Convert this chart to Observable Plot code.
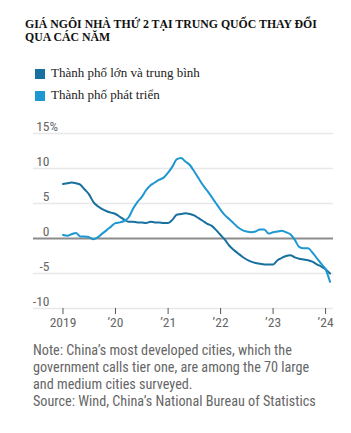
<!DOCTYPE html>
<html><head><meta charset="utf-8">
<script src="https://cdn.jsdelivr.net/npm/d3@7"></script>
<script src="https://cdn.jsdelivr.net/npm/@observablehq/plot@0.6"></script>
<style>
body{margin:0;background:#fff;width:351px;height:433px;position:relative;overflow:hidden}
.title{position:absolute;left:25px;top:18px;width:326px;font:bold 11.8px/13px "Liberation Serif",serif;color:#111;white-space:nowrap}
.sw{position:absolute;left:35px;width:10px;height:10px}
.lt{position:absolute;left:51px;font:13px/13px "Liberation Serif",serif;color:#222;white-space:nowrap}
#chart{position:absolute;left:0;top:110px}
.note{position:absolute;left:33px;top:342px;width:300px;font:14.2px/17px "Liberation Sans Narrow","Roboto Condensed",sans-serif;color:#666}
</style></head>
<body>
<div class="title">GIÁ NGÔI NHÀ THỨ 2 TẠI TRUNG QUỐC THAY ĐỔI<br>QUA CÁC NĂM</div>
<div class="sw" style="top:69px;background:#17709e"></div>
<div class="lt" style="top:66px">Thành phố lớn và trung bình</div>
<div class="sw" style="top:91px;background:#1d98d0"></div>
<div class="lt" style="top:88px">Thành phố phát triển</div>
<div id="chart"></div>
<div class="note">Note: China’s most developed cities, which the<br>government calls tier one, are among the 70 large<br>and medium cities surveyed.<br>Source: Wind, China’s National Bureau of Statistics</div>
<script>
// Monthly, Jan 2019 – Feb 2024, % change year over year
const largeMedium = [7.8,7.9,8.0,7.9,7.7,7.0,6.3,5.2,4.6,4.2,3.9,3.7,
  3.5,3.1,2.7,2.4,2.4,2.3,2.3,2.2,2.4,2.3,2.3,2.2,
  2.2,2.7,3.4,3.5,3.6,3.5,3.3,2.9,2.5,2.1,1.8,1.2,
  0.5,-0.2,-1.0,-1.6,-2.1,-2.6,-3.0,-3.3,-3.5,-3.6,-3.7,-3.7,
  -3.7,-3.1,-2.8,-2.5,-2.4,-2.7,-2.9,-3.0,-3.1,-3.3,-3.7,-4.0,
  -4.4,-5.0];
const tierOne = [0.5,0.4,0.6,0.8,0.3,0.3,0.2,-0.1,0.2,0.7,1.2,1.7,
  2.2,2.3,2.5,3.0,4.2,5.2,5.9,6.9,7.6,8.0,8.4,8.7,
  9.4,10.3,11.3,11.5,11.0,10.5,9.6,8.6,7.6,6.8,5.9,5.0,
  4.1,3.3,2.8,2.2,1.6,1.2,1.0,0.9,1.0,1.3,1.3,0.7,
  0.9,1.0,1.1,0.9,0.6,-0.2,-1.2,-1.4,-1.4,-2.0,-2.8,-3.6,
  -4.4,-6.2];
const yTicks = [15,10,5,0,-5,-10];
const yearTicks = [2019,2020,2021,2022,2023,2024];
const yearLabels = ["2019","’20","’21","’22","’23","’24"];

const months = d3.utcMonth.range(new Date(Date.UTC(2019,0,1)), new Date(Date.UTC(2024,2,1)));
const lm = months.map((d,i)=>({date:d, v:largeMedium[i]}));
const t1 = months.map((d,i)=>({date:d, v:tierOne[i]}));
const yearDates = yearTicks.map(y=>new Date(Date.UTC(y,0,1)));

const font = '"Liberation Sans Narrow","Roboto Condensed",sans-serif';
const chart = Plot.plot({
  width:351, height:226,
  marginLeft:33, marginRight:18, marginTop:23, marginBottom:28,
  style:{fontFamily:font, fontSize:"13px", color:"#666", background:"transparent"},
  x:{type:"utc", domain:[new Date(Date.UTC(2018,5,10)), new Date(Date.UTC(2024,1,25))]},
  y:{domain:[-10,15], axis:null},
  marks:[
    Plot.ruleY(yTicks.filter(d=>d!==0), {stroke:"#e8e8e8", strokeWidth:1.5}),
    Plot.ruleY([0], {stroke:"#8c8c8c", strokeWidth:2}),
    Plot.text(yTicks, {y:d=>d, frameAnchor:"left", text:d=>String(d), textAnchor:"end", dx:16, dy:-7, fill:"#666", fontSize:13.5}),
    Plot.text([15], {y:d=>d, frameAnchor:"left", text:()=>"%", textAnchor:"start", dx:16, dy:-7, fill:"#666", fontSize:13.5}),
    Plot.axisX({ticks:yearDates, tickSize:6, tickPadding:3, stroke:"#555", tickFormat:(d,i)=>yearLabels[i], fill:"#666", fontSize:13.5, label:null}),
    Plot.lineY(lm, {x:"date", y:"v", stroke:"#17709e", strokeWidth:2, curve:"monotone-x"}),
    Plot.lineY(t1, {x:"date", y:"v", stroke:"#1d98d0", strokeWidth:2, curve:"monotone-x"})
  ]
});
document.getElementById("chart").appendChild(chart);
</script>
</body></html>
